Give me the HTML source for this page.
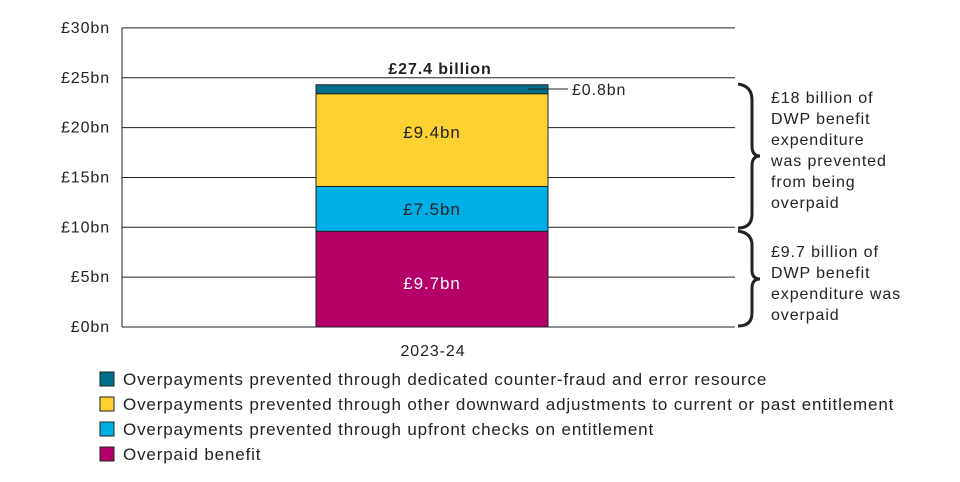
<!DOCTYPE html>
<html><head><meta charset="utf-8"><style>
body{margin:0;background:#fff;font-family:"Liberation Sans",sans-serif;}
svg text{font-family:"Liberation Sans",sans-serif;fill:#222;letter-spacing:0.9px;}
#legend text{letter-spacing:0.85px;}
</style></head><body>
<svg id="chart" width="960" height="477">
<g id="grid"></g>
<g id="yax"></g>
<g id="bars"></g>
<text x="440" y="74" text-anchor="middle" font-size="16" font-weight="bold">£27.4 billion</text>
<text x="433" y="356" text-anchor="middle" font-size="16">2023-24</text>
<line x1="528" y1="89" x2="568" y2="89" stroke="#222" stroke-width="1"/>
<text x="572" y="95" font-size="16">£0.8bn</text>
<path d="M738,84 Q752,86 752,100 L752,146 Q752,156 760,156 Q752,156 752,166 L752,214 Q752,228 738,228" fill="none" stroke="#222" stroke-width="3"/>
<path d="M738,231 Q752,233 752,245 L752,270 Q752,279 760,279 Q752,279 752,288 L752,313 Q752,326 738,326" fill="none" stroke="#222" stroke-width="3"/>
<g font-size="16">
<text x="771" y="103">£18 billion of</text><text x="771" y="124">DWP benefit</text><text x="771" y="145">expenditure</text><text x="771" y="166">was prevented</text><text x="771" y="187">from being</text><text x="771" y="208">overpaid</text></g>
<g font-size="16">
<text x="771" y="257">£9.7 billion of</text><text x="771" y="278">DWP benefit</text><text x="771" y="299">expenditure was</text><text x="771" y="320">overpaid</text></g>
<g id="legend"></g>
</svg>
<script>
const categories=["2023-24"];
const seriesNames=["Overpaid benefit","Overpayments prevented through upfront checks on entitlement","Overpayments prevented through other downward adjustments to current or past entitlement","Overpayments prevented through dedicated counter-fraud and error resource"];
const seriesValues=[9.6,4.5,9.3,0.9];
const seriesLabels=["£9.7bn","£7.5bn","£9.4bn",""];
const labelOffsets=[4,0,-8,0];
const colors=["#b5006a","#00aee6","#fdd130","#00708a"];
const yTicks=[0,5,10,15,20,25,30];
const yTickLabels=["£0bn","£5bn","£10bn","£15bn","£20bn","£25bn","£30bn"];
const NS="http://www.w3.org/2000/svg";
const y=v=>327-v*9.97;
function mk(tag,attrs,parent){const e=document.createElementNS(NS,tag);for(const k in attrs)e.setAttribute(k,attrs[k]);parent.appendChild(e);return e;}
const grid=document.getElementById('grid'),yax=document.getElementById('yax'),bars=document.getElementById('bars'),leg=document.getElementById('legend');
yTicks.forEach((t,i)=>{
 const l=mk('line',{x1:122,x2:735,y1:y(t),y2:y(t),stroke:'#222','stroke-width':1},grid);
 
 
 const tx=mk('text',{x:110,y:y(t)+5,'text-anchor':'end','font-size':16},yax);
 tx.textContent=yTickLabels[i];
 
 
});
const ax=mk('line',{x1:122,x2:122,y1:y(30),y2:y(0),stroke:'#222','stroke-width':1},yax);


let cum=0;
seriesValues.forEach((v,i)=>{
 const r=mk('rect',{x:316,width:232,y:y(cum+v),height:y(cum)-y(cum+v),fill:colors[i],stroke:'#222','stroke-width':1},bars);
 
 
 if(seriesLabels[i]){
  const t=mk('text',{x:432,y:(y(cum)+y(cum+v))/2+6+labelOffsets[i],'text-anchor':'middle','font-size':17},bars);
  t.textContent=seriesLabels[i];
  if(i===0)t.style.fill='#fff';
  
  
 }
 cum+=v;
});
for(let i=3;i>=0;i--){
 const row=3-i, yy=372+row*25;
 const r=mk('rect',{x:100,y:yy,width:14,height:14,fill:colors[i],stroke:'#222','stroke-width':1},leg);
 
 
 const t=mk('text',{x:123,y:yy+13,'font-size':17},leg);
 t.textContent=seriesNames[i];
 
 
}
</script>
</body></html>
